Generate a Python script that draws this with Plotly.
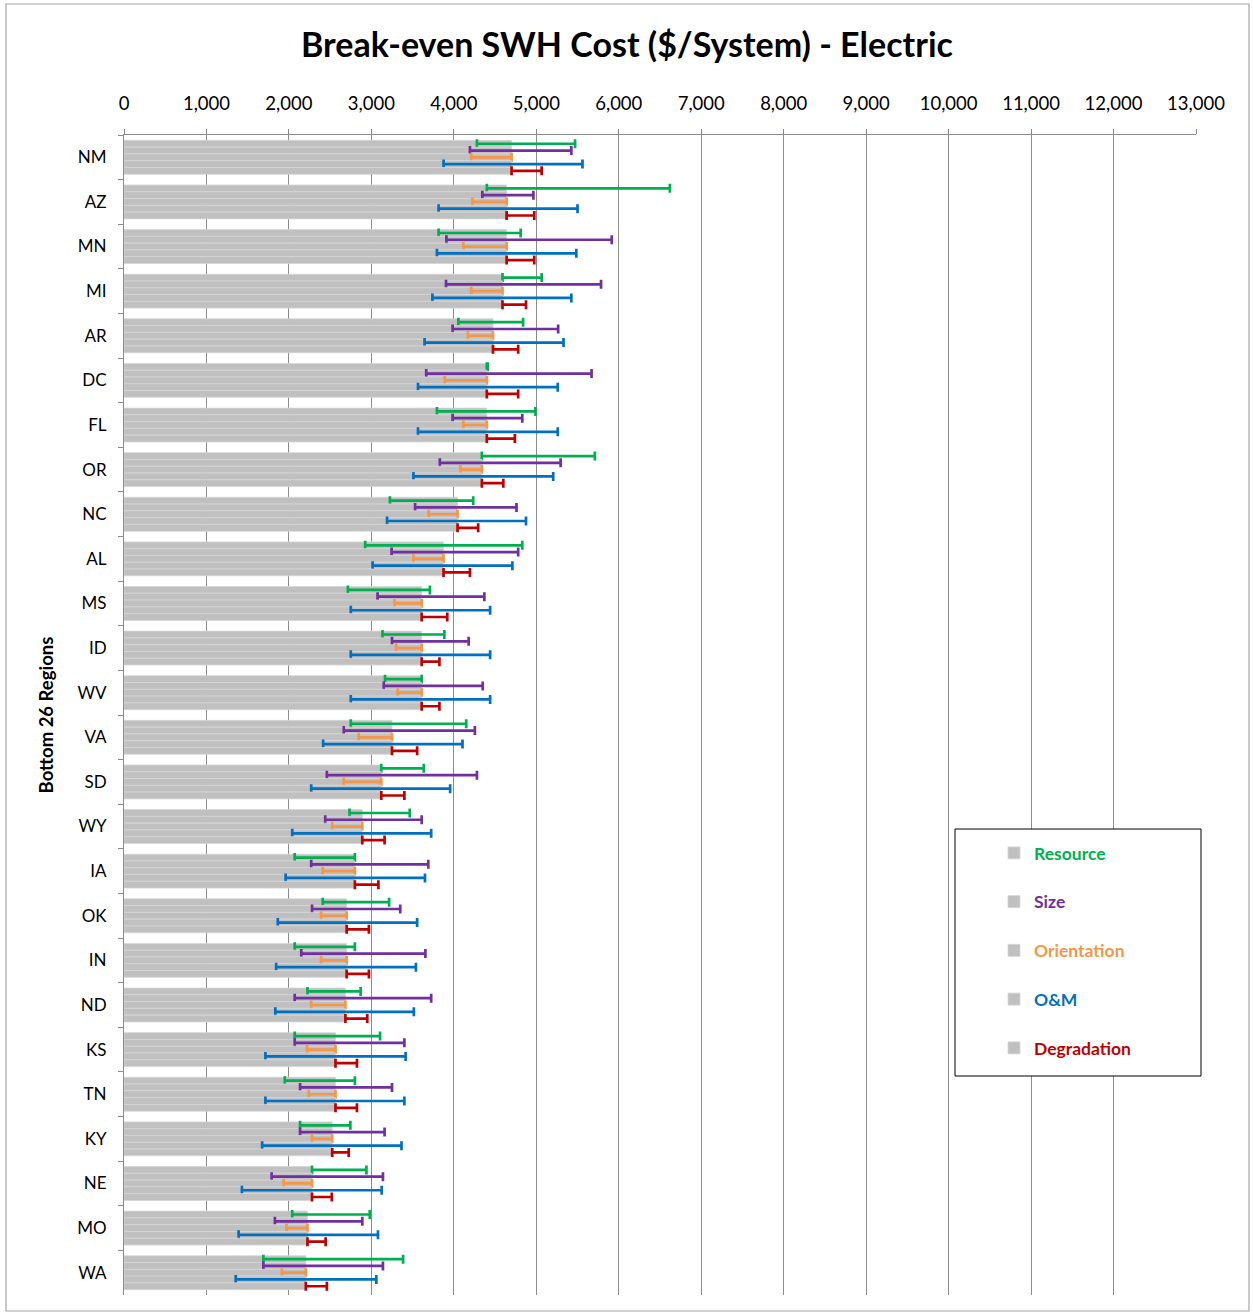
import plotly.graph_objects as go

regions = ["NM", "AZ", "MN", "MI", "AR", "DC", "FL", "OR", "NC", "AL", "MS", "ID", "WV",
           "VA", "SD", "WY", "IA", "OK", "IN", "ND", "KS", "TN", "KY", "NE", "MO", "WA"]

base = [4700, 4640, 4640, 4590, 4475, 4400, 4400, 4340, 4045, 3875, 3610, 3610, 3610,
        3250, 3120, 2890, 2800, 2700, 2700, 2685, 2565, 2565, 2525, 2280, 2225, 2205]

resource_low = [4280, 4400, 3815, 4590, 4055, 4400, 3795, 4340, 3225, 2925, 2715, 3135, 3165,
                2750, 3120, 2735, 2070, 2410, 2070, 2225, 2070, 1950, 2135, 2280, 2040, 1690]
resource_high = [5470, 6620, 4810, 5065, 4840, 4410, 4990, 5710, 4235, 4830, 3710, 3885, 3610,
                 4150, 3635, 3465, 2800, 3215, 2800, 2870, 3105, 2800, 2745, 2940, 2980, 3385]

size_low = [4195, 4345, 3910, 3905, 3985, 3665, 3985, 3830, 3530, 3245, 3075, 3250, 3150,
            2665, 2460, 2440, 2270, 2280, 2150, 2070, 2070, 2135, 2135, 1790, 1830, 1690]
size_high = [5425, 4965, 5915, 5785, 5265, 5670, 4830, 5295, 4760, 4780, 4370, 4180, 4350,
             4255, 4280, 3610, 3690, 3350, 3655, 3725, 3400, 3250, 3160, 3140, 2890, 3140]

orient_low = [4210, 4225, 4115, 4210, 4170, 3890, 4115, 4080, 3695, 3510, 3280, 3300, 3320,
              2845, 2665, 2525, 2410, 2390, 2390, 2270, 2220, 2240, 2280, 1935, 1970, 1915]
orient_high = [4700, 4640, 4640, 4590, 4475, 4400, 4400, 4340, 4045, 3875, 3610, 3610, 3610,
               3250, 3120, 2890, 2800, 2700, 2700, 2685, 2565, 2565, 2525, 2280, 2225, 2205]

om_low = [3875, 3815, 3795, 3740, 3645, 3565, 3565, 3510, 3190, 3015, 2750, 2750, 2750,
          2415, 2270, 2040, 1960, 1865, 1845, 1835, 1715, 1715, 1675, 1430, 1390, 1355]
om_high = [5560, 5500, 5485, 5425, 5330, 5260, 5260, 5205, 4875, 4710, 4440, 4440, 4440,
           4105, 3955, 3725, 3650, 3555, 3540, 3515, 3415, 3400, 3365, 3125, 3080, 3060]

degr_low = [4700, 4640, 4640, 4590, 4475, 4400, 4400, 4340, 4045, 3875, 3610, 3610, 3610,
            3250, 3120, 2890, 2800, 2700, 2700, 2685, 2565, 2565, 2525, 2280, 2225, 2205]
degr_high = [5065, 4975, 4975, 4875, 4780, 4780, 4740, 4600, 4295, 4195, 3920, 3825, 3825,
             3555, 3400, 3160, 3085, 2970, 2970, 2950, 2825, 2825, 2725, 2520, 2445, 2460]

x_ticks = list(range(0, 13001, 1000))

series = [
    ("Resource", "#00B050", resource_low, resource_high),
    ("Size", "#7030A0", size_low, size_high),
    ("Orientation", "#F79646", orient_low, orient_high),
    ("O&M", "#0070C0", om_low, om_high),
    ("Degradation", "#C00000", degr_low, degr_high),
]

FONT = "Lato"
W, H = 1253, 1314
PL, PR, PT, PB = 124, 1196, 135, 1295
PW, PH = PR - PL, PB - PT


def px(x):
    return (x - PL) / PW


def py(y):
    return (PB - y) / PH


fig = go.Figure()
for i, (name, color, lo, hi) in enumerate(series):
    plus = [max(h - b, 0) for h, b in zip(hi, base)]
    minus = [max(b - l, 0) for l, b in zip(lo, base)]
    fig.add_trace(go.Bar(
        y=regions, x=base, orientation="h",
        name=f"<b><span style='color:{color}'>{name}</span></b>",
        legendgroup=f"g{i}",
        marker=dict(color="#C0C0C0", line=dict(color="#D6D6D6", width=0.8)),
        error_x=dict(type="data", symmetric=False, array=plus, arrayminus=minus,
                     color=color, thickness=2.7, width=4.5),
        hoverinfo="skip",
    ))

fig.update_layout(
    width=W, height=H,
    barmode="group", bargap=0.24, bargroupgap=0,
    paper_bgcolor="white", plot_bgcolor="white",
    margin=dict(l=PL, r=W - PR, t=PT, b=H - PB, autoexpand=False),
    font=dict(family=FONT, size=17, color="black"),
    title=dict(text="<b>Break-even SWH Cost ($/System) - Electric</b>",
               x=627 / W, xref="container", xanchor="center",
               y=1 - 45 / H, yref="container", yanchor="middle",
               font=dict(family=FONT, size=34, color="black")),
    xaxis=dict(side="top", range=[0, 13000], tickvals=x_ticks,
               tickformat=",d", showgrid=True, gridcolor="#8C8C8C", gridwidth=1,
               showline=True, linecolor="#8C8C8C", linewidth=1,
               ticks="outside", ticklen=5, tickcolor="#8C8C8C",
               tickfont=dict(family=FONT, size=18.5), ticklabelstandoff=12,
               zeroline=False, automargin=False, fixedrange=True),
    yaxis=dict(type="category", categoryorder="array", categoryarray=regions,
               autorange="reversed", showline=True, linecolor="#8C8C8C", linewidth=1,
               ticks="outside", ticklen=5, tickcolor="#8C8C8C", tickson="boundaries",
               tickfont=dict(family=FONT, size=17), ticklabelstandoff=13,
               showgrid=False, automargin=False,
               title=dict(text="<b>Bottom 26 Regions</b>", standoff=18,
                          font=dict(family=FONT, size=18.5))),
    legend=dict(x=px(994), xanchor="left", y=py(835), yanchor="top",
                bgcolor="rgba(0,0,0,0)", borderwidth=0, tracegroupgap=23,
                traceorder="grouped", font=dict(family=FONT, size=17.5)),
    shapes=[
        dict(type="rect", xref="paper", yref="paper",
             x0=px(955), x1=px(1201), y0=py(1076), y1=py(829),
             fillcolor="white", line=dict(color="black", width=1), layer="above"),
        dict(type="rect", xref="paper", yref="paper",
             x0=px(6), x1=px(1249), y0=py(1311), y1=py(4),
             fillcolor="rgba(0,0,0,0)", line=dict(color="#A6A6A6", width=1.2), layer="above"),
    ],
)

fig.write_html("out.html", config={"displayModeBar": False},
               post_script="document.body.style.margin='0';")
